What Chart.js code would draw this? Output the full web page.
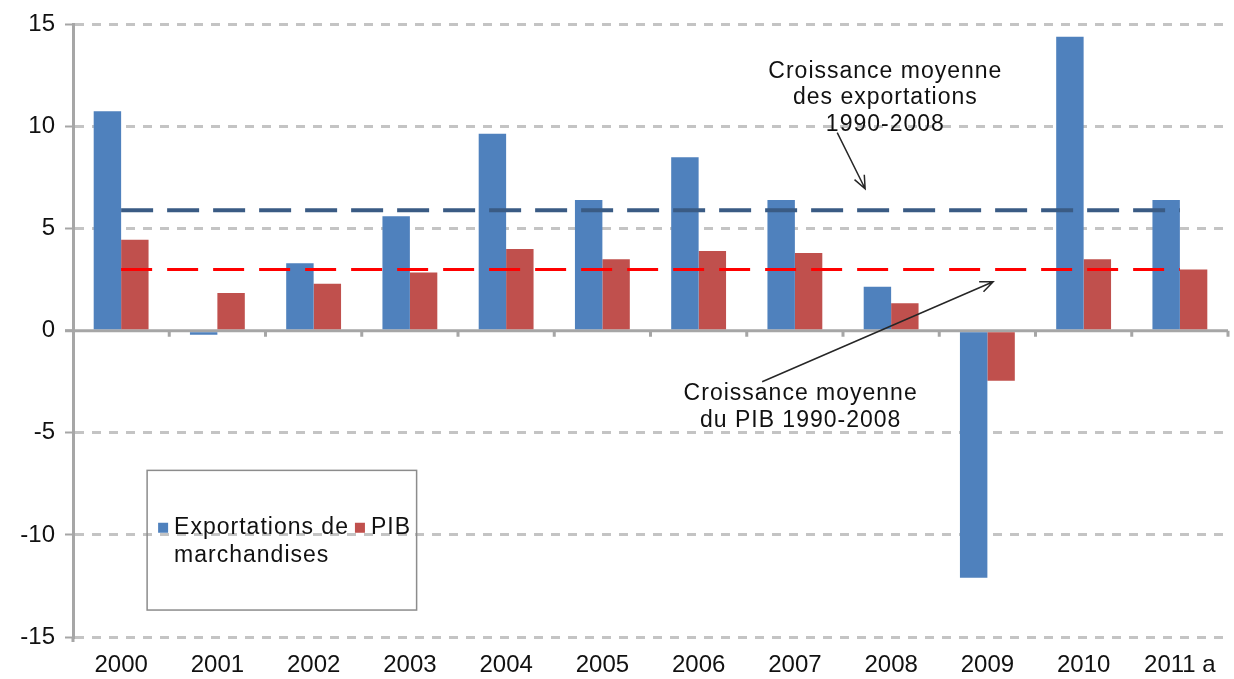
<!DOCTYPE html>
<html>
<head>
<meta charset="utf-8">
<script src="https://cdn.jsdelivr.net/npm/chart.js@4.4.1/dist/chart.umd.min.js"></script>
<style>
  html, body { margin: 0; background: #fff; }
  #wrap { width: 1234px; height: 679px; }
</style>
</head>
<body>
<div id="wrap"><canvas id="chart"></canvas></div>
<script>
// --- Data ---
const years = ['2000', '2001', '2002', '2003', '2004', '2005', '2006', '2007', '2008', '2009', '2010', '2011 a'];
const exportGrowth = [10.75, -0.2, 3.3, 5.6, 9.65, 6.4, 8.5, 6.4, 2.15, -12.1, 14.4, 6.4];
const gdpGrowth = [4.45, 1.85, 2.3, 2.85, 4.0, 3.5, 3.9, 3.8, 1.35, -2.45, 3.5, 3.0];
const avgExportGrowth = 5.9;   // 1990-2008 average
const avgGdpGrowth = 3.0;      // 1990-2008 average
const yTicks = [-15, -10, -5, 0, 5, 10, 15];

const seriesNames = ['Exportations de marchandises', 'PIB'];
const noteExports = ['Croissance moyenne', 'des exportations', '1990-2008'];
const noteGdp = ['Croissance moyenne', 'du PIB 1990-2008'];

const FONT = '"Liberation Sans", Arial, sans-serif';
const TEXT = '#111111';
const BLUE = '#4f81bd';
const RED = '#c0504d';

// draw an arrow from (x1,y1) to (x2,y2), head at the end
function arrow(ctx, x1, y1, x2, y2) {
    const a = Math.atan2(y2 - y1, x2 - x1);
    ctx.beginPath();
    ctx.moveTo(x1, y1);
    ctx.lineTo(x2, y2);
    ctx.moveTo(x2 - 14 * Math.cos(a - 0.4), y2 - 14 * Math.sin(a - 0.4));
    ctx.lineTo(x2, y2);
    ctx.lineTo(x2 - 14 * Math.cos(a + 0.4), y2 - 14 * Math.sin(a + 0.4));
    ctx.stroke();
}

const decor = {
    id: 'decor',
    beforeDatasetsDraw(chart) {
        const { ctx, chartArea, scales: { x, y } } = chart;
        const y0 = y.getPixelForValue(0);
        const step = x.width / years.length;
        ctx.save();
        ctx.strokeStyle = '#a6a6a6';
        ctx.lineWidth = 2;
        ctx.beginPath();
        ctx.moveTo(chartArea.left - 8, y0);
        ctx.lineTo(chartArea.right, y0);
        // small category ticks under the zero line
        for (let i = 1; i <= years.length; i++) {
            const px = x.left + i * step;
            ctx.moveTo(px, y0);
            ctx.lineTo(px, y0 + 6);
        }
        // axis runs a little past the bottom gridline
        ctx.moveTo(chartArea.left, chartArea.bottom);
        ctx.lineTo(chartArea.left, chartArea.bottom + 5);
        ctx.lineWidth = 3;
        ctx.stroke();
        ctx.restore();
    },
    afterDraw(chart) {
        const { ctx, scales: { x, y } } = chart;
        const step = x.width / years.length;
        const px = f => x.left + f * step;          // f = position in category units
        const py = v => y.getPixelForValue(v);

        ctx.save();
        ctx.fillStyle = TEXT;
        ctx.strokeStyle = '#262626';
        ctx.lineWidth = 1.5;
        ctx.font = '23px ' + FONT;
        ctx.letterSpacing = '1px';
        ctx.textAlign = 'center';
        ctx.textBaseline = 'middle';

        // export average note
        const n1 = [12.7, 11.4, 10.1];
        noteExports.forEach((t, i) => ctx.fillText(t, px(8.44), py(n1[i])));
        arrow(ctx, px(7.94), py(9.7), px(8.23), py(6.95));

        // GDP average note
        const n2 = [-3.08, -4.4];
        noteGdp.forEach((t, i) => ctx.fillText(t, px(7.56), py(n2[i])));
        arrow(ctx, px(7.16), py(-2.5), px(9.56), py(2.4));

        // legend box
        const bx = px(0.77), by = py(-6.84);
        const bw = px(3.57) - bx, bh = py(-13.68) - by;
        ctx.strokeStyle = '#8c8c8c';
        ctx.lineWidth = 1.5;
        ctx.strokeRect(bx, by, bw, bh);

        const ly = py(-9.65);
        ctx.textAlign = 'left';
        ctx.fillStyle = BLUE;
        ctx.fillRect(bx + 11, ly - 5, 10, 10);
        ctx.fillStyle = TEXT;
        ctx.fillText('Exportations de', bx + 27, ly);
        ctx.fillText('marchandises', bx + 27, ly + 28);
        const w = ctx.measureText('Exportations de').width;
        ctx.fillStyle = RED;
        ctx.fillRect(bx + 27 + w + 6, ly - 5, 10, 10);
        ctx.fillStyle = TEXT;
        ctx.fillText('PIB', bx + 27 + w + 22, ly);
        ctx.restore();
    }
};

const ctx = document.getElementById('chart').getContext('2d');
new Chart(ctx, {
    type: 'bar',
    data: {
        labels: years,
        datasets: [
            {
                type: 'line',
                label: 'Croissance moyenne des exportations',
                data: years.map(() => avgExportGrowth),
                borderColor: '#3a5b84',
                borderWidth: 4,
                borderDash: [32, 14],
                pointRadius: 0,
                order: 0
            },
            {
                type: 'line',
                label: 'Croissance moyenne du PIB',
                data: years.map(() => avgGdpGrowth),
                borderColor: '#ff0000',
                borderWidth: 3,
                borderDash: [31, 15],
                pointRadius: 0,
                order: 0
            },
            {
                label: seriesNames[0],
                data: exportGrowth,
                backgroundColor: BLUE,
                categoryPercentage: 0.57,
                barPercentage: 1.0,
                order: 1
            },
            {
                label: seriesNames[1],
                data: gdpGrowth,
                backgroundColor: RED,
                categoryPercentage: 0.57,
                barPercentage: 1.0,
                order: 1
            }
        ]
    },
    options: {
        responsive: true,
        maintainAspectRatio: false,
        animation: false,
        layout: { padding: { top: 23, right: 6, left: 0, bottom: 0 } },
        plugins: {
            legend: { display: false },
            tooltip: { enabled: false }
        },
        scales: {
            x: {
                grid: { display: false },
                border: { display: false },
                ticks: {
                    color: TEXT,
                    font: { family: FONT, size: 24 },
                    padding: 6,
                    maxRotation: 0
                },
                afterFit: s => { s.height = 42; }
            },
            y: {
                min: -15,
                max: 15,
                afterBuildTicks: s => { s.ticks = yTicks.map(v => ({ value: v })); },
                ticks: {
                    color: TEXT,
                    font: { family: FONT, size: 24 },
                    padding: 10
                },
                grid: {
                    color: c => (c.tick && c.tick.value === 0) ? 'rgba(0,0,0,0)' : '#c4c4c4',
                    lineWidth: 3,
                    tickColor: '#a6a6a6',
                    tickLength: 8,
                    tickWidth: 2
                },
                border: { display: true, color: '#a6a6a6', width: 3, dash: [9, 8] },
                afterFit: s => { s.width = 73; }
            }
        }
    },
    plugins: [decor]
});
</script>
</body>
</html>
